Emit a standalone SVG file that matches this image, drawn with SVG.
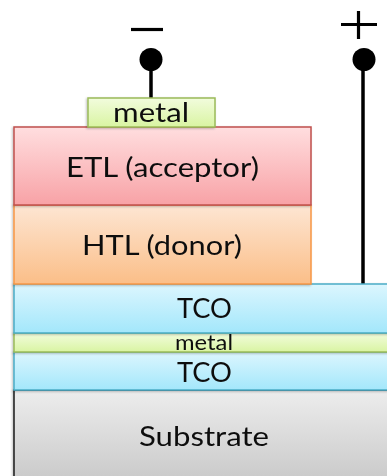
<svg xmlns="http://www.w3.org/2000/svg" width="387" height="476" viewBox="0 0 387 476">
  <style>
    .lbl { font-family: Lato, "Open Sans", "Liberation Sans", sans-serif; fill: #111; text-anchor: middle; }
    .big { font-size: 27px; }
    .mid { font-size: 27px; }
    .small { font-size: 21px; }
    .wire { stroke: #000; stroke-width: 3.5; fill: none; }
    .sign { stroke: #000; stroke-width: 3.2; fill: none; }
  </style>
  <defs>
    <linearGradient id="gEtl" x1="0" y1="0" x2="0" y2="1">
      <stop offset="0" stop-color="#FFDEDF"/>
      <stop offset="1" stop-color="#F8A2A6"/>
    </linearGradient>
    <linearGradient id="gHtl" x1="0" y1="0" x2="0" y2="1">
      <stop offset="0" stop-color="#FDE6D3"/>
      <stop offset="1" stop-color="#FBBE88"/>
    </linearGradient>
    <linearGradient id="gTco" x1="0" y1="0" x2="0" y2="1">
      <stop offset="0" stop-color="#DCF6FE"/>
      <stop offset="1" stop-color="#A3E7FB"/>
    </linearGradient>
    <linearGradient id="gMetal" x1="0" y1="0" x2="0" y2="1">
      <stop offset="0" stop-color="#F2FCDD"/>
      <stop offset="1" stop-color="#D9F4A2"/>
    </linearGradient>
    <linearGradient id="gSub" x1="0" y1="0" x2="0" y2="1">
      <stop offset="0" stop-color="#EDEDED"/>
      <stop offset="1" stop-color="#C6C6C6"/>
    </linearGradient>
    <filter id="shadow" x="-10%" y="-10%" width="120%" height="120%">
      <feDropShadow dx="-1" dy="1" stdDeviation="1" flood-color="#000" flood-opacity="0.25"/>
    </filter>
  </defs>

  <rect width="387" height="476" fill="#FFFFFF"/>

  <!-- terminals and leads -->
  <g id="connectors">
    <line class="wire" x1="151" y1="60" x2="151" y2="99"/>
    <line class="wire" x1="363" y1="60" x2="363" y2="284"/>
  </g>

  <g id="terminal-minus">
    <line class="sign" x1="131" y1="29.5" x2="163" y2="29.5"/>
    <circle cx="151" cy="59.5" r="11.5" fill="#000"/>
  </g>

  <g id="terminal-plus">
    <line class="sign" x1="341" y1="24.5" x2="377" y2="24.5"/>
    <line class="sign" x1="358.5" y1="11" x2="358.5" y2="39"/>
    <circle cx="364" cy="59.5" r="11.5" fill="#000"/>
  </g>

  <!-- layer stack, bottom to top -->
  <g id="substrate" filter="url(#shadow)">
    <rect x="14" y="390" width="390" height="100" fill="url(#gSub)" stroke="#1A1A1A" stroke-width="1.5"/>
    <text class="lbl mid" x="204" y="446" textLength="130" lengthAdjust="spacingAndGlyphs">Substrate</text>
  </g>

  <g id="tco-bottom" filter="url(#shadow)">
    <rect x="14" y="352" width="390" height="38" fill="url(#gTco)" stroke="#4BACC6" stroke-width="1.5"/>
    <text class="lbl mid" x="204.5" y="382" textLength="55" lengthAdjust="spacingAndGlyphs">TCO</text>
  </g>

  <g id="metal-thin" filter="url(#shadow)">
    <rect x="14" y="333" width="390" height="19" fill="url(#gMetal)" stroke="#9BBB59" stroke-width="1.5"/>
    <text class="lbl small" x="204" y="350" textLength="58" lengthAdjust="spacingAndGlyphs">metal</text>
  </g>

  <g id="tco-top" filter="url(#shadow)">
    <rect x="14" y="284" width="390" height="49" fill="url(#gTco)" stroke="#4BACC6" stroke-width="1.5"/>
    <text class="lbl mid" x="204.5" y="318" textLength="55" lengthAdjust="spacingAndGlyphs">TCO</text>
  </g>

  <g id="htl" filter="url(#shadow)">
    <rect x="14" y="205" width="297" height="79" fill="url(#gHtl)" stroke="#F79646" stroke-width="1.5"/>
    <text class="lbl mid" x="162" y="255" textLength="160" lengthAdjust="spacingAndGlyphs">HTL (donor)</text>
  </g>

  <g id="etl" filter="url(#shadow)">
    <rect x="14" y="127" width="297" height="78" fill="url(#gEtl)" stroke="#C0504D" stroke-width="1.5"/>
    <text class="lbl mid" x="162.5" y="177" textLength="193" lengthAdjust="spacingAndGlyphs">ETL (acceptor)</text>
  </g>

  <g id="metal-top" filter="url(#shadow)">
    <rect x="88" y="98" width="127" height="29" fill="url(#gMetal)" stroke="#9BBB59" stroke-width="1.5"/>
    <text class="lbl big" x="151" y="122" textLength="76" lengthAdjust="spacingAndGlyphs">metal</text>
  </g>
</svg>
